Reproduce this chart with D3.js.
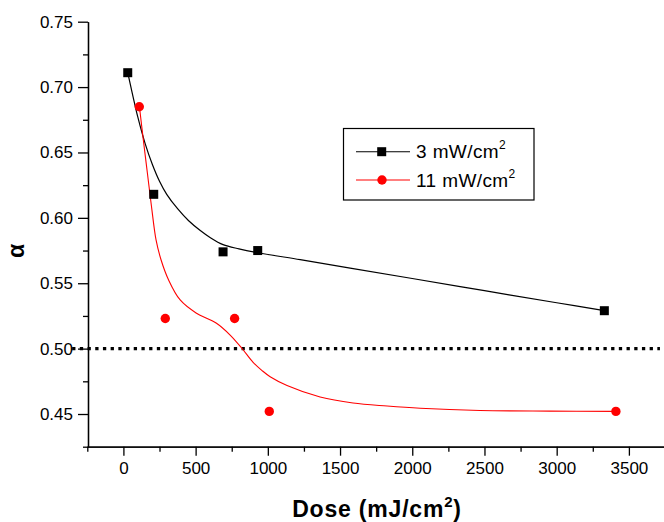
<!DOCTYPE html>
<html>
<head>
<meta charset="utf-8">
<script src="https://cdn.jsdelivr.net/npm/d3@7"></script>
<style>
  body { margin: 0; background: #fff; }
  text { font-family: Arial, "Liberation Sans", sans-serif; fill: #000; }
  .axis path, .axis line { stroke: #000; stroke-width: 1.3px; }
  .axis text { font-size: 17px; }
</style>
</head>
<body>
<div id="chart"></div>
<script>
// measured points, 3 mW/cm2
const doseLow = [30, 210, 690, 930, 3330];
const alphaLow = [0.711, 0.618, 0.574, 0.575, 0.529];

// measured points, 11 mW/cm2
const doseHigh = [110, 290, 770, 1010, 3410];
const alphaHigh = [0.685, 0.523, 0.523, 0.452, 0.452];

// smoothed fit curves
const fitLowDose = [30, 60, 100, 150, 200, 250, 300, 375, 450, 530, 600, 690, 800, 924, 1224, 1570, 2000, 2500, 3000, 3330];
const fitLowAlpha = [0.711, 0.696, 0.677, 0.657, 0.641, 0.628, 0.618, 0.607, 0.598, 0.5905, 0.585, 0.5795, 0.5763, 0.5735, 0.568, 0.5616, 0.5536, 0.5443, 0.5351, 0.529];

const fitHighDose = [111, 138, 166, 194, 226, 261, 313, 393, 503, 642, 739, 820, 898, 960, 1016, 1133, 1362, 1590, 1826, 2055, 2469, 2954, 3410];
const fitHighAlpha = [0.685, 0.6595, 0.6343, 0.6091, 0.5831, 0.5678, 0.5525, 0.5372, 0.5273, 0.5196, 0.5104, 0.5003, 0.4895, 0.4832, 0.4785, 0.4718, 0.463, 0.4584, 0.4561, 0.4544, 0.4527, 0.4522, 0.452];

// dotted reference line at alpha = 0.5
const refDose = [-355, 3715];
const refAlpha = 0.5;

const xTicks = [0, 500, 1000, 1500, 2000, 2500, 3000, 3500];
const xMinorTicks = [-250, 250, 750, 1250, 1750, 2250, 2750, 3250, 3750];
const yTicks = [0.45, 0.50, 0.55, 0.60, 0.65, 0.70, 0.75];
const yMinorTicks = [0.425, 0.475, 0.525, 0.575, 0.625, 0.675, 0.725];

const seriesNames = ["3 mW/cm", "11 mW/cm"];

const width = 664, height = 522;

const svg = d3.select("#chart").append("svg")
    .attr("width", width)
    .attr("height", height)
    .style("background", "#fff");

// scales
const x = d3.scaleLinear().domain([-250, 3750]).range([87.3, 665]);
const y = d3.scaleLinear().domain([0.425, 0.75]).range([446.7, 21.7]);

// axes
svg.append("g")
    .attr("class", "axis")
    .attr("transform", "translate(0,446.7)")
    .call(d3.axisBottom(x).tickValues(xMinorTicks).tickSize(5).tickSizeOuter(0).tickFormat(""));

svg.append("g")
    .attr("class", "axis")
    .attr("transform", "translate(0,446.7)")
    .call(d3.axisBottom(x).tickValues(xTicks).tickSize(9).tickSizeOuter(0).tickPadding(6).tickFormat(d3.format("d")));

svg.append("g")
    .attr("class", "axis")
    .attr("transform", "translate(88,0)")
    .call(d3.axisLeft(y).tickValues(yMinorTicks).tickSize(5).tickSizeOuter(0).tickFormat(""));

svg.append("g")
    .attr("class", "axis")
    .attr("transform", "translate(88,0)")
    .call(d3.axisLeft(y).tickValues(yTicks).tickSize(10).tickSizeOuter(0).tickPadding(5).tickFormat(d3.format(".2f")));

// dotted line at 0.5
svg.append("line")
    .attr("x1", x(refDose[0]))
    .attr("x2", x(refDose[1]))
    .attr("y1", y(refAlpha))
    .attr("y2", y(refAlpha))
    .attr("stroke", "#000")
    .attr("stroke-width", 3.3)
    .attr("stroke-dasharray", "3.3,4.4");

// fit curves
const line = d3.line()
    .x(d => x(d[0]))
    .y(d => y(d[1]))
    .curve(d3.curveCatmullRom.alpha(0.5));

svg.append("path")
    .datum(d3.zip(fitLowDose, fitLowAlpha))
    .attr("d", line)
    .attr("fill", "none")
    .attr("stroke", "#000")
    .attr("stroke-width", 1.2);

svg.append("path")
    .datum(d3.zip(fitHighDose, fitHighAlpha))
    .attr("d", line)
    .attr("fill", "none")
    .attr("stroke", "#ff0000")
    .attr("stroke-width", 1.1);

// markers
svg.selectAll(".sq")
    .data(d3.zip(doseLow, alphaLow))
    .enter().append("rect")
    .attr("class", "sq")
    .attr("x", d => x(d[0]) - 4.5)
    .attr("y", d => y(d[1]) - 4.5)
    .attr("width", 9)
    .attr("height", 9)
    .attr("fill", "#000");

svg.selectAll(".dot")
    .data(d3.zip(doseHigh, alphaHigh))
    .enter().append("circle")
    .attr("class", "dot")
    .attr("cx", d => x(d[0]))
    .attr("cy", d => y(d[1]))
    .attr("r", 4.7)
    .attr("fill", "#ff0000");

// legend
const legend = svg.append("g").attr("transform", "translate(343.5,128.5)");
legend.append("rect")
    .attr("width", 190.5)
    .attr("height", 71.5)
    .attr("fill", "#fff")
    .attr("stroke", "#000")
    .attr("stroke-width", 1.2);

const rows = [
    { name: seriesNames[0], color: "#000", shape: "square", dy: 23.2 },
    { name: seriesNames[1], color: "#ff0000", shape: "circle", dy: 51.5 }
];

rows.forEach(r => {
    const g = legend.append("g").attr("transform", "translate(0," + r.dy + ")");
    g.append("line")
        .attr("x1", 12.5).attr("x2", 66.5)
        .attr("stroke", r.color).attr("stroke-width", 1.1);
    if (r.shape === "square") {
        g.append("rect").attr("x", 33.7).attr("y", -4.5).attr("width", 9).attr("height", 9).attr("fill", r.color);
    } else {
        g.append("circle").attr("cx", 38.5).attr("r", 4.7).attr("fill", r.color);
    }
    const t = g.append("text")
        .attr("x", 72.5)
        .attr("y", 6.5)
        .style("font-size", "19px")
        .style("letter-spacing", "0.4px")
        .text(r.name);
    t.append("tspan")
        .attr("dy", -9)
        .style("font-size", "12px")
        .text("2");
});

// axis titles
const xt = svg.append("text")
    .attr("x", 377)
    .attr("y", 516.5)
    .attr("text-anchor", "middle")
    .style("font-size", "23px")
    .style("font-weight", "bold")
    .style("letter-spacing", "0.8px")
    .text("Dose (mJ/cm");
xt.append("tspan").attr("dy", -10).style("font-size", "15px").text("2");
xt.append("tspan").attr("dy", 10).text(")");

svg.append("text")
    .attr("transform", "translate(24,251) rotate(-90)")
    .attr("text-anchor", "middle")
    .style("font-size", "23px")
    .style("font-weight", "bold")
    .text("α");
</script>
</body>
</html>
